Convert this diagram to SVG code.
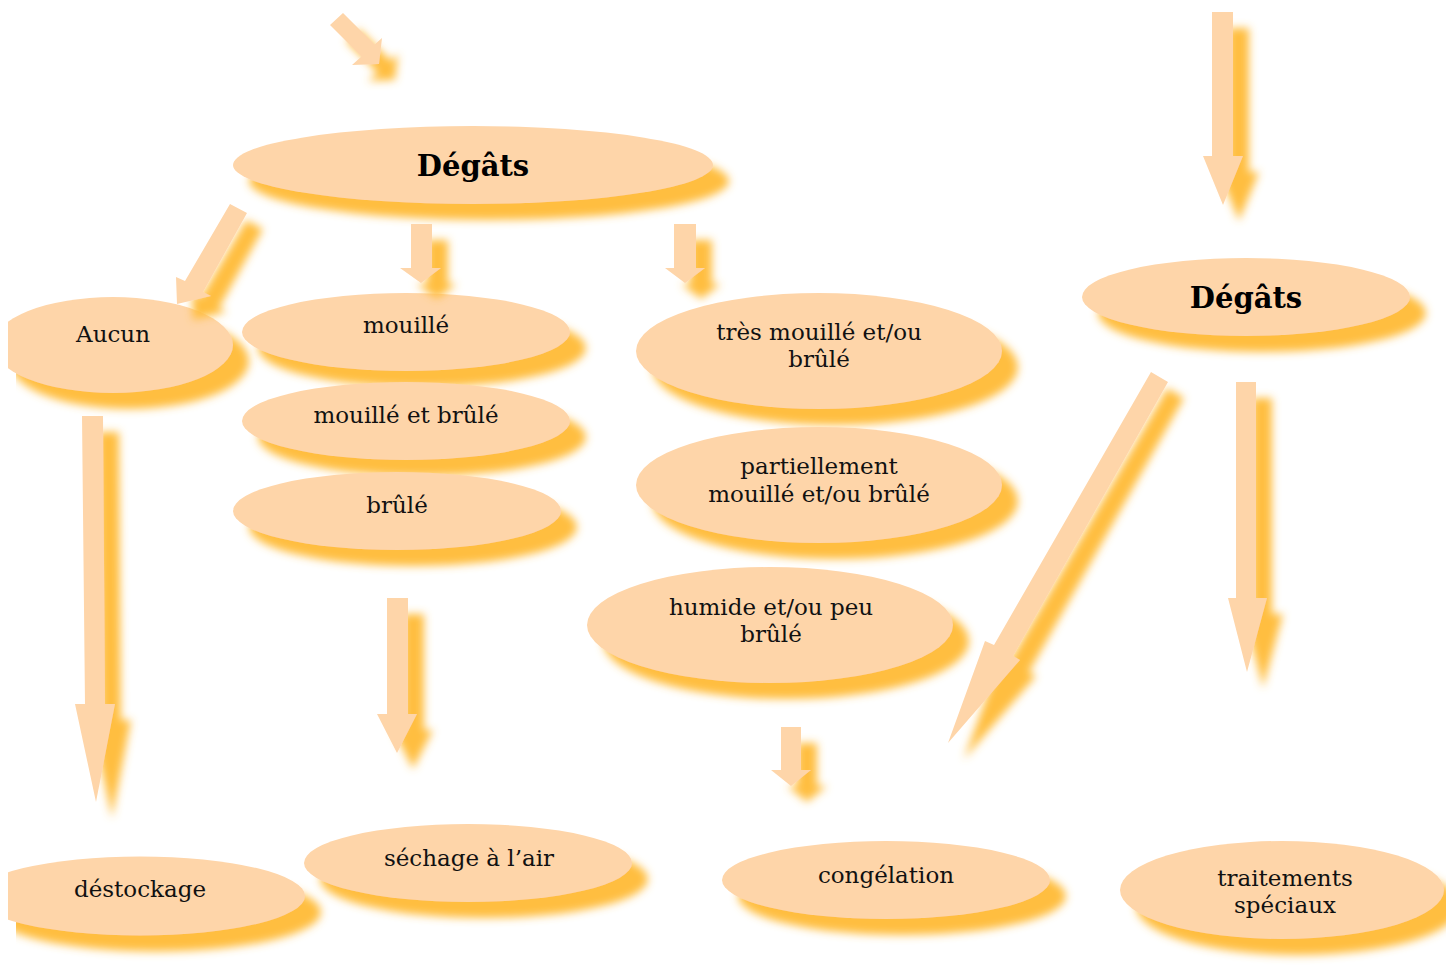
<svg xmlns="http://www.w3.org/2000/svg" width="1453" height="965" viewBox="0 0 1453 965">
<defs>
<filter id="sh" filterUnits="userSpaceOnUse" x="0" y="0" width="1453" height="965">
<feGaussianBlur in="SourceAlpha" stdDeviation="4.5"/>
<feOffset dx="16" dy="16" result="b"/>
<feFlood flood-color="#FFBE40"/>
<feComposite in2="b" operator="in"/>
<feMerge><feMergeNode/><feMergeNode in="SourceGraphic"/></feMerge>
</filter>
<clipPath id="page"><rect x="8" y="0" width="1438" height="965"/></clipPath>
</defs>
<style>
.n{fill:#FED5A9;filter:url(#sh)}
.a{fill:#FED5A9;filter:url(#sh)}
.t{font-family:"DejaVu Serif","Liberation Serif",serif;font-size:23px;fill:#111;text-anchor:middle}
.h{font-family:"DejaVu Serif","Liberation Serif",serif;font-size:29px;font-weight:bold;fill:#000;text-anchor:middle}
</style>
<rect width="1453" height="965" fill="#fff"/>
<g clip-path="url(#page)">
<g id="n-degats1"><ellipse class="n" cx="473" cy="165" rx="240" ry="39"/><text class="h" x="473" y="176">Dégâts</text></g>
<g id="n-degats2"><ellipse class="n" cx="1246" cy="297" rx="164" ry="39"/><text class="h" x="1246" y="308">Dégâts</text></g>
<g id="n-aucun"><ellipse class="n" cx="113" cy="345" rx="120" ry="48"/><text class="t" x="113" y="342">Aucun</text></g>
<g id="n-mouille"><ellipse class="n" cx="406" cy="332" rx="164" ry="39"/><text class="t" x="406" y="333">mouillé</text></g>
<g id="n-mouille-brule"><ellipse class="n" cx="406" cy="421" rx="164" ry="39"/><text class="t" x="406" y="423">mouillé et brûlé</text></g>
<g id="n-brule"><ellipse class="n" cx="397" cy="511" rx="164" ry="39"/><text class="t" x="397" y="513">brûlé</text></g>
<g id="n-tres"><ellipse class="n" cx="819" cy="351" rx="183" ry="58"/><text class="t" x="819" y="340">très mouillé et/ou</text><text class="t" x="819" y="367">brûlé</text></g>
<g id="n-partiel"><ellipse class="n" cx="819" cy="485" rx="183" ry="58"/><text class="t" x="819" y="474">partiellement</text><text class="t" x="819" y="502">mouillé et/ou brûlé</text></g>
<g id="n-humide"><ellipse class="n" cx="770" cy="625" rx="183" ry="58"/><text class="t" x="771" y="615">humide et/ou peu</text><text class="t" x="771" y="642">brûlé</text></g>
<g id="n-destockage"><ellipse class="n" cx="140" cy="896" rx="165" ry="39.5"/><text class="t" x="140" y="897">déstockage</text></g>
<g id="n-sechage"><ellipse class="n" cx="468" cy="863" rx="164" ry="39"/><text class="t" x="469" y="866">séchage à l’air</text></g>
<g id="n-congelation"><ellipse class="n" cx="886" cy="880" rx="164" ry="39"/><text class="t" x="886" y="883">congélation</text></g>
<g id="n-traitements"><ellipse class="n" cx="1282" cy="890" rx="162" ry="49"/><text class="t" x="1285" y="886">traitements</text><text class="t" x="1285" y="913">spéciaux</text></g>
<g id="connectors">
<polygon class="a" points="330,25 343,13 374.6,44.6 382,38 379,64 352,65 361.5,56.5"/>
<polygon class="a" points="230,204 247,213 203,292 211,296 177,304 176,277 185,281"/>
<polygon class="a" points="411,224 432,224 432,268 441,268 421,283 400,268 411,268"/>
<polygon class="a" points="674,224 696,224 696,268 705,268 685,283 665,268 674,268"/>
<polygon class="a" points="1212,12 1233,12 1233,156 1243,156 1223,205 1203,156 1212,156"/>
<polygon class="a" points="82,416 103,416 105,704 115,704 96,802 75,704 85,704"/>
<polygon class="a" points="387,598 408,598 408,714 417,714 397,753 377,714 387,714"/>
<polygon class="a" points="781,727 801,727 801,770 811,770 791,786 771,770 781,770"/>
<polygon class="a" points="1151,372 1168,382 1013,656 1020,660 948,743 985,641 994,645"/>
<polygon class="a" points="1236,382 1256,382 1256,598 1267,598 1247,672 1228,598 1236,598"/>
</g>
</g>
</svg>
